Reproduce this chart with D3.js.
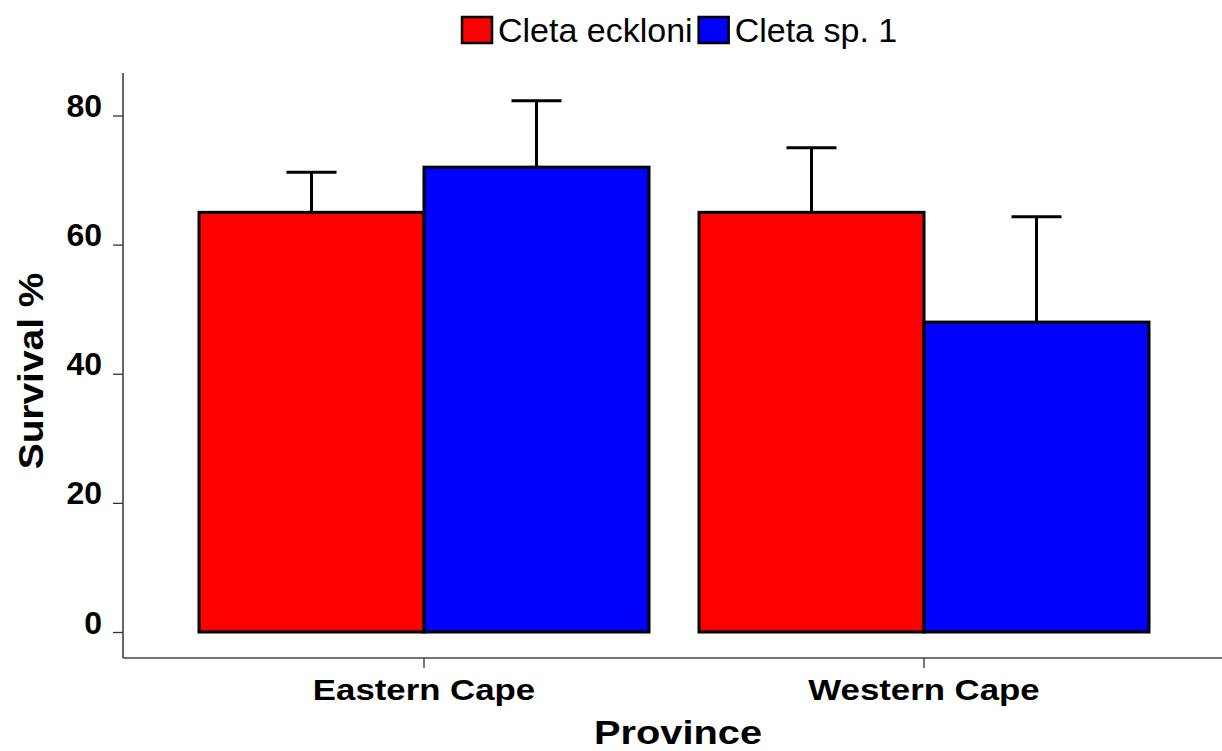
<!DOCTYPE html>
<html>
<head>
<meta charset="utf-8">
<script src="https://cdn.jsdelivr.net/npm/d3@7"></script>
<style>
  body { margin: 0; background: #fff; }
  svg { display: block; font-family: "Liberation Sans", Arial, sans-serif; }
</style>
</head>
<body>
<div id="chart"></div>
<script>
// Data
const provinces = ["Eastern Cape", "Western Cape"];
const species = ["Cleta eckloni", "Cleta sp. 1"];
const ecklMean = [65, 65];
const ecklErr = [6.2, 10];
const sp1Mean = [72, 48];
const sp1Err = [10.3, 16.3];
const yTicks = [0, 20, 40, 60, 80];

const colors = ["#FF0000", "#0000FF"];

const W = 1222, H = 751;
// plot frame
const axisX = 123, axisY = 658, axisTop = 73;

const rows = [];
provinces.forEach((p, i) => {
    rows.push({ province: p, sp: species[0], mean: ecklMean[i], err: ecklErr[i] });
    rows.push({ province: p, sp: species[1], mean: sp1Mean[i], err: sp1Err[i] });
});

const svg = d3.select("#chart").append("svg")
    .attr("width", W)
    .attr("height", H);

const y = d3.scaleLinear().domain([0, 80]).range([632, 115.5]);

const x0 = d3.scaleBand()
    .domain(provinces)
    .range([174, 1174])
    .paddingInner(0.1)
    .paddingOuter(0.05);

const x1 = d3.scaleBand()
    .domain(species)
    .range([0, x0.bandwidth()]);

const color = d3.scaleOrdinal().domain(species).range(colors);

// y axis
const yAxis = svg.append("g")
    .attr("transform", `translate(${axisX},0)`)
    .call(d3.axisLeft(y).tickValues(yTicks).tickSize(10).tickSizeOuter(0).tickPadding(11));
yAxis.select(".domain").remove();
yAxis.selectAll(".tick line").attr("stroke", "#333").attr("stroke-width", 1.3);
yAxis.selectAll(".tick text")
    .attr("y", 0).attr("dy", 1)
    .style("font-size", "32px")
    .style("font-weight", "bold")
    .attr("fill", "#000");

svg.append("line")
    .attr("x1", axisX).attr("x2", axisX)
    .attr("y1", axisTop).attr("y2", axisY)
    .attr("stroke", "#333").attr("stroke-width", 1.5);

// x axis
const xAxis = svg.append("g")
    .attr("transform", `translate(0,${axisY})`)
    .call(d3.axisBottom(x0).tickSize(10).tickSizeOuter(0).tickPadding(0));
xAxis.select(".domain").remove();
xAxis.selectAll(".tick line").attr("stroke", "#333").attr("stroke-width", 1.3);
xAxis.selectAll(".tick text")
    .attr("y", 42)
    .attr("dy", 0)
    .attr("transform", "scale(1.16,1)")
    .style("font-size", "30px")
    .style("font-weight", "bold")
    .attr("fill", "#000");

svg.append("line")
    .attr("x1", axisX).attr("x2", W)
    .attr("y1", axisY).attr("y2", axisY)
    .attr("stroke", "#444").attr("stroke-width", 1.5);

// bars
const groups = svg.selectAll(".bar-group")
    .data(provinces)
    .enter()
    .append("g")
    .attr("class", "bar-group")
    .attr("transform", d => `translate(${x0(d)},0)`);

groups.selectAll("rect")
    .data(p => rows.filter(r => r.province === p))
    .enter()
    .append("rect")
    .attr("x", d => x1(d.sp))
    .attr("y", d => y(d.mean))
    .attr("width", x1.bandwidth())
    .attr("height", d => y(0) - y(d.mean))
    .attr("fill", d => color(d.sp))
    .attr("stroke", "#000")
    .attr("stroke-width", 3);

// error bars (upper only)
const capW = 50;
groups.selectAll(".err")
    .data(p => rows.filter(r => r.province === p))
    .enter()
    .append("path")
    .attr("class", "err")
    .attr("fill", "none")
    .attr("stroke", "#000")
    .attr("stroke-width", 3)
    .attr("d", d => {
        const cx = x1(d.sp) + x1.bandwidth() / 2;
        const top = y(d.mean + d.err);
        return `M${cx},${y(d.mean)}V${top}M${cx - capW / 2},${top}H${cx + capW / 2}`;
    });

// axis titles
svg.append("text")
    .attr("transform", "translate(43,371) rotate(-90) scale(1.08,1)")
    .attr("text-anchor", "middle")
    .style("font-size", "36px")
    .style("font-weight", "bold")
    .text("Survival %");

svg.append("text")
    .attr("transform", "translate(678,744) scale(1.17,1)")
    .attr("text-anchor", "middle")
    .style("font-size", "34px")
    .style("font-weight", "bold")
    .text("Province");

// legend
const legend = svg.append("g").attr("transform", "translate(462,17)");
let lx = 0;
species.forEach((s, i) => {
    legend.append("rect")
        .attr("x", lx).attr("y", 0)
        .attr("width", 30).attr("height", 26)
        .attr("fill", color(s))
        .attr("stroke", "#000")
        .attr("stroke-width", 2.5);
    const t = legend.append("text")
        .attr("x", lx + 36)
        .attr("y", 25)
        .style("font-size", "34px")
        .text(s);
    lx += 36 + t.node().getComputedTextLength() + 6;
});
</script>
</body>
</html>
